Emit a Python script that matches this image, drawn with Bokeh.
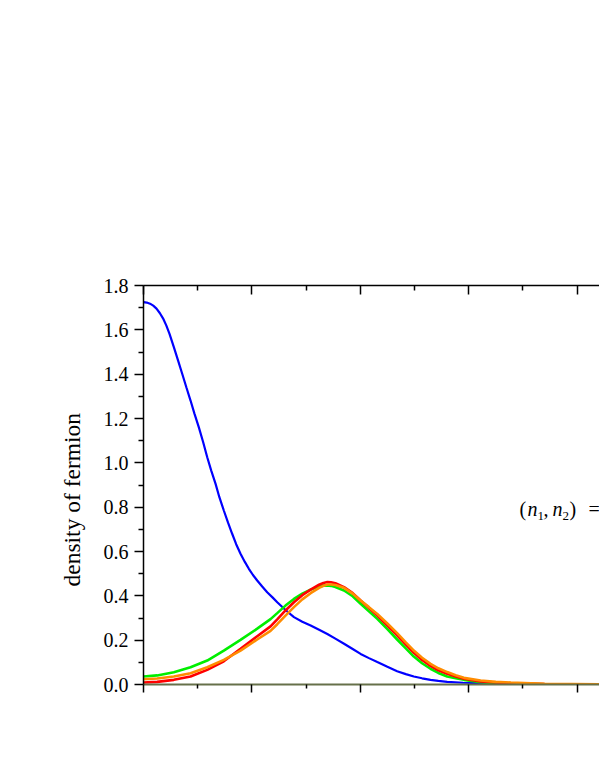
from bokeh.plotting import figure
from bokeh.models import (Range1d, LinearAxis, FixedTicker, PrintfTickFormatter, Label)
from bokeh.embed import file_html
from bokeh.resources import INLINE

# ---------------- data ----------------
x_blue = [0, 0.03, 0.06, 0.09, 0.12, 0.15, 0.18, 0.21, 0.24, 0.28, 0.32, 0.357, 0.396, 0.434,
          0.47, 0.51, 0.55, 0.588, 0.625, 0.665, 0.70, 0.741, 0.78, 0.818, 0.855, 0.895,
          0.935, 0.972, 1.01, 1.049, 1.095, 1.141, 1.19, 1.234, 1.31, 1.388, 1.465, 1.542,
          1.62, 1.696, 1.77, 1.85, 1.93, 2.003, 2.08, 2.157, 2.25, 2.34, 2.42, 2.494,
          2.57, 2.648, 2.72, 2.802, 2.95, 3.11, 3.3, 3.5, 3.8, 4.21]
y_blue = [1.725, 1.723, 1.718, 1.709, 1.696, 1.676, 1.652, 1.620, 1.582, 1.522, 1.460, 1.402,
          1.340, 1.281, 1.222, 1.161, 1.094, 1.025, 0.965, 0.905, 0.845, 0.785, 0.730, 0.680,
          0.633, 0.590, 0.553, 0.522, 0.494, 0.469, 0.442, 0.416, 0.393, 0.371, 0.336, 0.304,
          0.283, 0.266, 0.247, 0.228, 0.207, 0.184, 0.160, 0.138, 0.119, 0.101, 0.080, 0.060,
          0.047, 0.036, 0.028, 0.021, 0.016, 0.012, 0.008, 0.006, 0.004, 0.002, 0.001, 0.0]

x_peak = [0, 0.126, 0.28, 0.434, 0.588, 0.741, 0.895, 1.049, 1.172, 1.234, 1.31, 1.388, 1.465,
          1.542, 1.62, 1.66, 1.696, 1.73, 1.77, 1.85, 1.93, 2.003, 2.08, 2.157, 2.25, 2.34,
          2.42, 2.494, 2.57, 2.648, 2.72, 2.802, 2.88, 2.956, 3.11, 3.25, 3.39, 3.7, 4.21]
y_green = [0.036, 0.041, 0.055, 0.078, 0.108, 0.153, 0.201, 0.252, 0.295, 0.322, 0.356, 0.386,
           0.410, 0.428, 0.442, 0.446, 0.447, 0.445, 0.440, 0.424, 0.398, 0.364, 0.330, 0.296,
           0.250, 0.203, 0.163, 0.126, 0.096, 0.071, 0.052, 0.036, 0.028, 0.021, 0.010, 0.006,
           0.004, 0.001, 0.0]
y_red = [0.009, 0.012, 0.021, 0.036, 0.066, 0.105, 0.161, 0.218, 0.262, 0.294, 0.334, 0.371,
         0.403, 0.428, 0.450, 0.458, 0.462, 0.461, 0.457, 0.439, 0.412, 0.379, 0.345, 0.311,
         0.266, 0.222, 0.180, 0.143, 0.111, 0.084, 0.064, 0.048, 0.036, 0.026, 0.014, 0.009,
         0.005, 0.002, 0.0]
y_orange = [0.024, 0.027, 0.036, 0.051, 0.078, 0.111, 0.153, 0.203, 0.242, 0.272, 0.311, 0.349,
            0.384, 0.412, 0.436, 0.445, 0.451, 0.451, 0.449, 0.436, 0.410, 0.379, 0.349, 0.318,
            0.275, 0.232, 0.190, 0.153, 0.121, 0.093, 0.073, 0.056, 0.042, 0.030, 0.018, 0.012,
            0.009, 0.003, 0.001]

x_major = [0, 1, 2, 3, 4]
x_minor = [0.5, 1.5, 2.5, 3.5]
y_major = [0.0, 0.2, 0.4, 0.6, 0.8, 1.0, 1.2, 1.4, 1.6, 1.8]
y_minor = [0.1, 0.3, 0.5, 0.7, 0.9, 1.1, 1.3, 1.5, 1.7]
y_title = "density of fermion"

FONT = "Liberation Serif"

p = figure(width=599, height=708, output_backend="svg", toolbar_location=None,
           x_range=Range1d(0, 4.207), y_range=Range1d(0, 1.8),
           x_axis_location=None, y_axis_location=None,
           min_border_left=143, min_border_right=0, min_border_top=285, min_border_bottom=24)
p.outline_line_color = None
p.grid.visible = False
p.background_fill_color = "white"
p.border_fill_color = "white"

# curves
p.line(x_blue, y_blue, line_color="#0000ff", line_width=2.2)
p.line(x_peak, y_green, line_color="#00ee00", line_width=2.6)
p.line(x_peak, y_red, line_color="#ff0000", line_width=2.6)
p.line(x_peak, y_orange, line_color="#ff8c00", line_width=2.6)

# left axis
yax = LinearAxis(ticker=FixedTicker(ticks=y_major, minor_ticks=y_minor),
                 formatter=PrintfTickFormatter(format="%.1f"))
# trailing non-breaking spaces shift the centred title slightly downward, as in the reference
yax.axis_label = y_title + "\u00a0" * 5
yax.axis_label_text_font = FONT
yax.axis_label_text_font_size = "23.5px"
yax.axis_label_text_font_style = "normal"
yax.axis_label_text_color = "black"
yax.axis_label_standoff = 16
yax.major_label_text_font = FONT
yax.major_label_text_font_size = "20px"
yax.major_label_text_color = "black"
yax.major_label_standoff = 6
yax.major_tick_out = 9
yax.major_tick_in = 0
yax.minor_tick_out = 5
yax.minor_tick_in = 0
yax.axis_line_width = 1.5
yax.major_tick_line_width = 1.5
yax.minor_tick_line_width = 1.5
yax.axis_line_color = "black"
p.add_layout(yax, "left")

# bottom axis (no labels)
xax = LinearAxis(ticker=FixedTicker(ticks=x_major, minor_ticks=x_minor))
xax.major_label_text_color = None
xax.major_label_text_font_size = "2px"
xax.major_tick_out = 8
xax.major_tick_in = 0
xax.minor_tick_out = 4
xax.minor_tick_in = 0
xax.axis_line_width = 2
xax.axis_line_color = "#66704a"
xax.major_tick_line_width = 1.5
xax.minor_tick_line_width = 1.5
xax.major_tick_line_color = "black"
xax.minor_tick_line_color = "black"
p.add_layout(xax, "below")

# top axis (ticks inward)
tax = LinearAxis(ticker=FixedTicker(ticks=x_major, minor_ticks=x_minor))
tax.major_label_text_color = None
tax.major_label_text_font_size = "2px"
tax.major_tick_out = 0
tax.major_tick_in = 9
tax.minor_tick_out = 0
tax.minor_tick_in = 5
tax.axis_line_width = 1.5
tax.major_tick_line_width = 1.5
tax.minor_tick_line_width = 1.5
p.add_layout(tax, "above")

px_per_x = 456 / 4.207
px_per_y = 399 / 1.8

# annotation "(n1, n2) ="
x0 = (519 - 143) / px_per_x
yb = (684 - 508) / px_per_y
ys = (684 - 515) / px_per_y
pieces = [("(", 0, yb, 20, "normal"),
          ("n", 8, yb, 20, "italic"),
          ("1", 18, ys, 13, "normal"),
          (",", 24, yb, 20, "normal"),
          ("n", 33, yb, 20, "italic"),
          ("2", 43, ys, 13, "normal"),
          (")", 50, yb, 20, "normal"),
          ("=", 69, yb, 20, "normal")]
for txt, dx, yy, fs, st in pieces:
    p.add_layout(Label(x=x0, y=yy, x_offset=dx, text=txt, text_font=FONT,
                       text_font_size=f"{fs}px", text_font_style=st,
                       text_color="black", text_baseline="alphabetic", text_align="left"))

open("out.html", "w").write(file_html(p, INLINE))
